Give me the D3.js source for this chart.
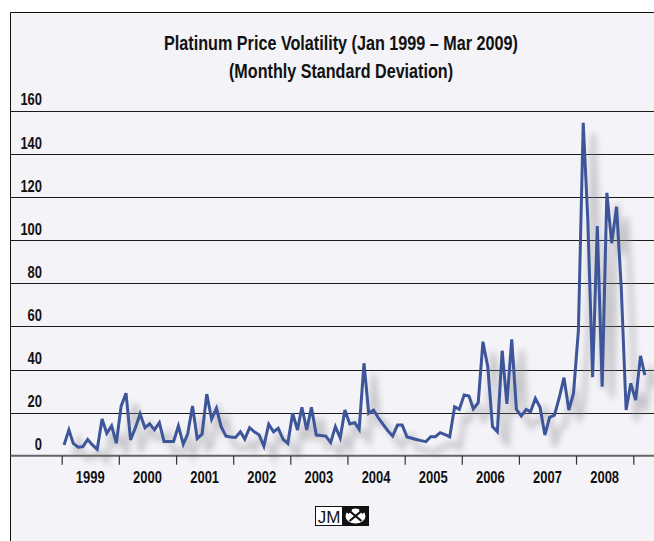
<!DOCTYPE html>
<html>
<head>
<meta charset="utf-8">
<script src="https://cdn.jsdelivr.net/npm/d3@7"></script>
<style>
  html, body { margin: 0; padding: 0; background: #fff; }
  svg { display: block; }
  text { font-family: "Liberation Sans", Arial, sans-serif; font-weight: bold; fill: #111; }
</style>
</head>
<body>
<svg id="chart" width="654" height="541"></svg>
<script>
/*** DATA ***/
var titleLines = ["Platinum Price Volatility (Jan 1999 \u2013 Mar 2009)", "(Monthly Standard Deviation)"];
var startYear = 1999;
var yearLabels = [1999, 2000, 2001, 2002, 2003, 2004, 2005, 2006, 2007, 2008];
var yTicks = [0, 20, 40, 60, 80, 100, 120, 140, 160];
// monthly standard deviation, Jan 1999 .. Mar 2009
var volatility = [
  5, 12, 5.7, 3.9, 4.2, 7.5, 5, 3, 17, 10.4, 13.8, 5.8,            // 1999
  23, 29, 7.3, 13, 19.4, 13, 14.8, 12, 15.3, 6.6, 6.6, 6.6,         // 2000
  13.8, 5.3, 10, 23.1, 8, 10, 28.6, 17, 22, 13.5, 9.1, 8.7,         // 2001
  8.5, 11.1, 7.7, 13, 11.1, 9.6, 4.5, 14.6, 11.1, 12.7, 7.6, 5.7,   // 2002
  19.7, 11.9, 22.5, 11.9, 22.5, 9.6, 9.4, 9.1, 6.1, 13.5, 8.2, 21.2, // 2003
  14.7, 15.3, 12.2, 42.9, 19.7, 21.2, 17.6, 14.5, 11.5, 9.1, 14.2, 14.2, // 2004
  8.7, 8.1, 7.5, 7, 6.5, 8.8, 8.8, 10.7, 9.8, 8.8, 22.7, 21.5,      // 2005
  28.2, 27.7, 21.7, 24.6, 52.9, 41.3, 13.5, 11.1, 48.7, 24, 54, 21.5, // 2006
  18.4, 21.5, 20.4, 26.6, 22.5, 9.6, 17.8, 18.8, 27, 36.2, 21.2, 29, // 2007
  58, 154.5, 110, 36.4, 106.6, 32, 122, 98.6, 115.5, 78, 21.2, 33.6, // 2008
  25.8, 46.3, 37.4                                                   // 2009
];

/*** LAYOUT ***/
var width = 654,
    height = 541,
    frameLeft = 10.5,
    frameTop = 12.5,
    plotLeft = 61.7,
    plotRight = 633.3,
    plotTop = 110.9,
    plotBottom = 455.7,
    digitWidth = 7.2,
    lineColor = "#3d5599",
    bgColor = "#f3f3f8";

var svg = d3.select("#chart");

var x = d3.scaleTime()
  .domain([new Date(startYear, 0, 1), new Date(startYear + yearLabels.length, 0, 1)])
  .range([plotLeft, plotRight]);
var y = d3.scaleLinear()
  .domain([0, 160])
  .range([plotBottom, plotTop]);

var points = volatility.map((v, i) => ({
  date: new Date(startYear + Math.floor(i / 12), i % 12, 16),
  value: v
}));

// background + frame
svg.append("rect").attr("x", frameLeft).attr("y", frameTop)
  .attr("width", width - frameLeft).attr("height", height - frameTop)
  .attr("fill", bgColor);
svg.append("path")
  .attr("d", "M" + frameLeft + "," + height + "V" + frameTop + "H" + width)
  .attr("fill", "none").attr("stroke", "#111").attr("stroke-width", 1);

// title (condensed face squeezed to the reference widths)
var titleWidths = [354, 224];
svg.append("g").selectAll("text").data(titleLines).enter()
  .append("text")
    .attr("x", 341)
    .attr("y", (d, i) => 50 + i * 28)
    .attr("text-anchor", "middle")
    .attr("font-size", "19.5px")
    .attr("textLength", (d, i) => titleWidths[i])
    .attr("lengthAdjust", "spacingAndGlyphs")
    .text(d => d);

/*** GRID + Y LABELS ***/
var grid = svg.append("g");
grid.selectAll("line").data(yTicks.filter(d => d > 0)).enter()
  .append("line")
    .attr("x1", frameLeft).attr("x2", width)
    .attr("y1", d => Math.round(y(d)) + 0.5).attr("y2", d => Math.round(y(d)) + 0.5)
    .attr("stroke", "#1a1a1a").attr("stroke-width", 1);
grid.selectAll("text").data(yTicks).enter()
  .append("text")
    .attr("x", 42)
    .attr("y", d => y(d) - 5.5)
    .attr("text-anchor", "end")
    .attr("font-size", "16.5px")
    .attr("textLength", d => String(d).length * digitWidth)
    .attr("lengthAdjust", "spacingAndGlyphs")
    .text(d => d);

/*** SHADOW + LINE ***/
var defs = svg.append("defs");
defs.append("filter").attr("id", "blur")
  .attr("x", "-20%").attr("y", "-20%").attr("width", "140%").attr("height", "140%")
  .append("feGaussianBlur").attr("stdDeviation", 3);

var line = d3.line()
  .x(d => x(d.date))
  .y(d => y(d.value));

svg.append("path").datum(points)
  .attr("d", line)
  .attr("transform", "translate(10,11)")
  .attr("fill", "none")
  .attr("stroke", "#8a8a8e")
  .attr("stroke-opacity", 0.42)
  .attr("stroke-width", 5)
  .attr("filter", "url(#blur)");

svg.append("path").datum(points)
  .attr("d", line)
  .attr("fill", "none")
  .attr("stroke", lineColor)
  .attr("stroke-width", 3)
  .attr("stroke-linejoin", "miter")
  .attr("stroke-miterlimit", 4);

/*** X AXIS ***/
svg.append("line")
  .attr("x1", frameLeft).attr("x2", width)
  .attr("y1", plotBottom).attr("y2", plotBottom)
  .attr("stroke", "#666").attr("stroke-width", 2);

var xAxis = d3.axisBottom(x)
  .ticks(d3.timeYear.every(1))
  .tickSize(9)
  .tickFormat("");
var ax = svg.append("g")
  .attr("transform", "translate(0," + plotBottom + ")")
  .call(xAxis);
ax.select(".domain").remove();
ax.selectAll(".tick line").attr("stroke", "#333").attr("stroke-width", 1.2);

svg.append("g").selectAll("text").data(yearLabels).enter()
  .append("text")
    .attr("x", d => (x(new Date(d, 0, 1)) + x(new Date(d + 1, 0, 1))) / 2)
    .attr("y", 483)
    .attr("text-anchor", "middle")
    .attr("font-size", "16.5px")
    .attr("textLength", 4 * digitWidth)
    .attr("lengthAdjust", "spacingAndGlyphs")
    .text(d => d);

/*** JM LOGO ***/
var logo = svg.append("g").attr("transform", "translate(315,506)");
logo.append("rect").attr("x", 0.5).attr("y", 0.5).attr("width", 53).attr("height", 19)
  .attr("fill", "#fff").attr("stroke", "#111");
logo.append("rect").attr("x", 27).attr("y", 0.5).attr("width", 26.5).attr("height", 19)
  .attr("fill", "#111");
logo.append("text").attr("x", 14).attr("y", 16.5).attr("text-anchor", "middle")
  .attr("font-size", "17px").style("font-weight", "normal").text("JM");
var emblem = logo.append("g").attr("transform", "translate(40.5,10)");
emblem.append("ellipse").attr("rx", 10).attr("ry", 7.5).attr("fill", "#fff");
emblem.append("path").attr("d", "M-6,-5L6,5M6,-5L-6,5")
  .attr("stroke", "#111").attr("stroke-width", 2.2);
emblem.append("path").attr("d", "M-8,-3L-4,-7M8,-3L4,-7")
  .attr("stroke", "#111").attr("stroke-width", 2.5);
</script>
</body>
</html>
